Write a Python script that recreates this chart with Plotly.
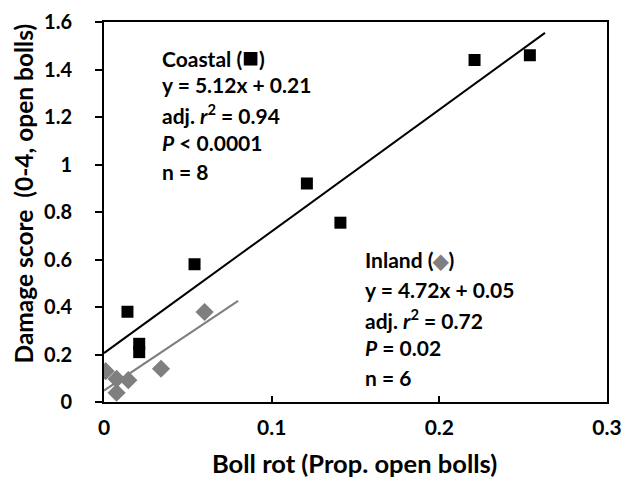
import numpy as np
import plotly.graph_objects as go

# Coastal (squares)
coastal_x = [0.014, 0.021, 0.021, 0.054, 0.121, 0.141, 0.221, 0.254]
coastal_y = [0.38, 0.245, 0.21, 0.58, 0.92, 0.755, 1.44, 1.46]
coastal_line_x = [0.0, 0.263]

# Inland (diamonds)
inland_x = [0.001, 0.0075, 0.0075, 0.0145, 0.034, 0.060]
inland_y = [0.13, 0.097, 0.039, 0.092, 0.14, 0.379]
inland_line_x = [0.0, 0.080]

x_ticks = [0, 0.1, 0.2, 0.3]
x_tick_labels = ["0", "0.1", "0.2", "0.3"]
y_ticks = [0, 0.2, 0.4, 0.6, 0.8, 1.0, 1.2, 1.4, 1.6]
y_tick_labels = ["0", "0.2", "0.4", "0.6", "0.8", "1", "1.2", "1.4", "1.6"]

x_title = "Boll rot (Prop. open bolls)"
y_title = "Damage score  (0-4, open bolls)"

coastal_text = ["Coastal (<span style='color:black;font-size:28px'>■</span>)", "y = 5.12x + 0.21",
                "adj. <i>r</i><sup>2</sup> = 0.94", "<i>P</i> &lt; 0.0001", "n = 8"]
inland_text = ["Inland (<span style='color:#7f7f7f;font-size:20px'>◆</span>)", "y = 4.72x + 0.05",
               "adj. <i>r</i><sup>2</sup> = 0.72", "<i>P</i> = 0.02", "n = 6"]

FONT = "Lato"
GRAY = "#7f7f7f"

cs, ci = np.polyfit(coastal_x, coastal_y, 1)
isl, ii = np.polyfit(inland_x, inland_y, 1)

fig = go.Figure()
fig.add_trace(go.Scatter(x=coastal_line_x, y=[cs * v + ci for v in coastal_line_x],
                         mode="lines", line=dict(color="black", width=2), hoverinfo="skip"))
fig.add_trace(go.Scatter(x=inland_line_x, y=[isl * v + ii for v in inland_line_x],
                         mode="lines", line=dict(color=GRAY, width=2), hoverinfo="skip"))
fig.add_trace(go.Scatter(x=coastal_x, y=coastal_y, mode="markers",
                         marker=dict(symbol="square", size=12, color="black")))
fig.add_trace(go.Scatter(x=inland_x, y=inland_y, mode="markers",
                         marker=dict(symbol="diamond", size=14, color=GRAY)))

W, H = 623, 477
L, R, T, B = 103.5, 607.5, 22, 402.5
def px(xp):
    return (xp - L) / (R - L)
def py(yp):
    return (B - yp) / (B - T)

bold = dict(family=FONT, color="black", weight=700)
ann = []
for t, yp in zip(coastal_text, [56, 85, 114, 143, 172]):
    ann.append(dict(text=t, x=px(160), y=py(yp), xref="paper", yref="paper",
                    xanchor="left", yanchor="middle", showarrow=False,
                    font=dict(size=21, **bold)))
for t, yp in zip(inland_text, [260, 290, 319, 348, 378]):
    ann.append(dict(text=t, x=px(363), y=py(yp), xref="paper", yref="paper",
                    xanchor="left", yanchor="middle", showarrow=False,
                    font=dict(size=21, **bold)))
ann.append(dict(text=x_title, x=px(354), y=py(464), xref="paper", yref="paper",
                xanchor="center", yanchor="middle", showarrow=False,
                font=dict(size=25.5, **bold)))
ann.append(dict(text=y_title, x=px(23), y=py(194), xref="paper", yref="paper",
                xanchor="center", yanchor="middle", showarrow=False, textangle=-90,
                font=dict(size=24.5, **bold)))

fig.update_layout(
    width=W, height=H,
    margin=dict(l=L, r=W - R, t=T, b=H - B, autoexpand=False),
    paper_bgcolor="white", plot_bgcolor="white",
    showlegend=False,
    annotations=ann,
    font=dict(family=FONT, color="black"),
)
fig.update_xaxes(range=[0, 0.3], tickvals=x_ticks, ticktext=x_tick_labels,
                 showgrid=False, zeroline=False, showline=True, linecolor="black",
                 linewidth=2, mirror=True, ticks="inside", ticklen=6, tickwidth=2,
                 tickcolor="black", automargin=False, ticklabelstandoff=6,
                 tickfont=dict(size=21, **bold))
fig.update_yaxes(range=[0, 1.6], tickvals=y_ticks, ticktext=y_tick_labels,
                 showgrid=False, zeroline=False, showline=True, linecolor="black",
                 linewidth=2, mirror=True, ticks="outside", ticklen=7, tickwidth=2,
                 tickcolor="black", automargin=False, ticklabelstandoff=19,
                 tickfont=dict(size=20, **bold))

fig.write_html("out.html", config={"displayModeBar": False},
               post_script="document.body.style.margin='0';document.body.style.overflow='hidden';")
